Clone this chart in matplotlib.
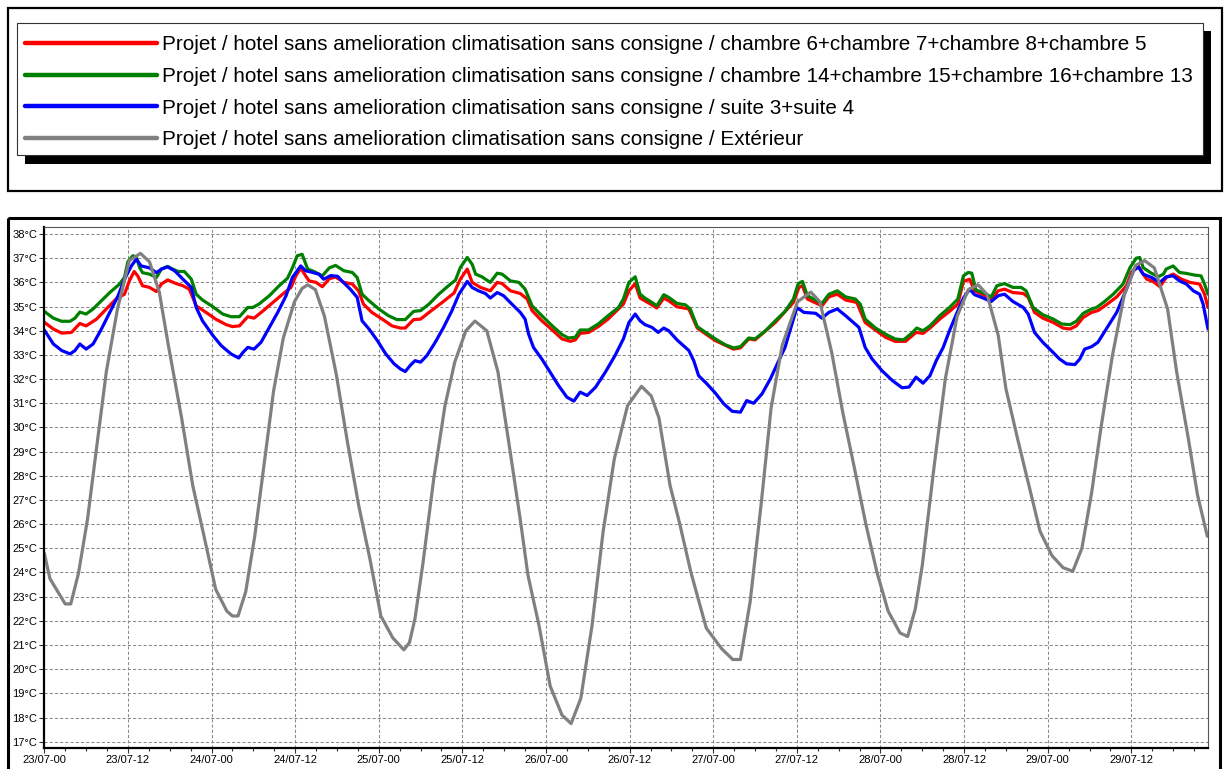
import matplotlib
matplotlib.use("Agg")
import matplotlib.pyplot as plt
from matplotlib.patches import Rectangle
from matplotlib.ticker import FixedLocator, MultipleLocator

plt.rcParams["font.family"] = ["Liberation Sans", "DejaVu Sans"]

# Series names (legend order = draw order)
prefix = "Projet / hotel sans amelioration climatisation sans consigne / "
labels = [
    prefix + "chambre 6+chambre 7+chambre 8+chambre 5",
    prefix + "chambre 14+chambre 15+chambre 16+chambre 13",
    prefix + "suite 3+suite 4",
    prefix + "Extérieur",
]
colors = ["#ff0000", "#008000", "#0000ff", "#808080"]

# Time axis: hours since 23/07 00:00
tick_labels = [
    "23/07-00", "23/07-12", "24/07-00", "24/07-12", "25/07-00", "25/07-12",
    "26/07-00", "26/07-12", "27/07-00", "27/07-12", "28/07-00", "28/07-12",
    "29/07-00", "29/07-12",
]
temp_ticks = list(range(17, 39))

red_hours = [
    0, 1.3, 2.5, 3.9, 5.1, 6.0, 7.5, 8.9, 10.3, 11.5, 12.2, 12.9, 13.4, 14.1, 15.1,
    16.1, 16.8, 17.7, 18.9, 19.9, 20.8, 21.8, 23.2, 24.6, 26.1, 27.0, 28.0, 29.2,
    30.1, 31.3, 32.8, 34.2, 35.4, 36.1, 36.8, 37.5, 38.0, 39.0, 39.9, 40.9, 41.8,
    43.0, 44.2, 45.1, 45.8, 47.0, 48.5, 49.9, 51.1, 51.8, 53.0, 54.0, 55.4, 57.1,
    58.8, 59.7, 60.7, 61.4, 62.6, 64.0, 65.0, 65.7, 66.9, 68.3, 69.3, 70.0, 71.4,
    72.9, 74.3, 75.5, 76.2, 76.9, 78.1, 79.5, 80.9, 82.4, 83.1, 83.9, 84.8, 85.5,
    87.2, 87.9, 88.9, 89.6, 90.8, 92.5, 93.7, 96.3, 98.9, 99.9, 101.1, 102.0,
    104.9, 107.5, 108.3, 108.8, 109.5, 111.6, 112.6, 113.8, 115.0, 116.6, 117.8,
    120.7, 122.1, 123.6, 125.1, 126.1, 127.1, 128.5, 129.9, 131.1, 131.9, 132.8,
    133.5, 134.7, 135.9, 136.9, 137.8, 139.0, 140.5, 141.2, 142.1, 143.3, 144.8,
    146.2, 147.2, 148.1, 149.1, 150.3, 151.2, 152.4, 153.9, 155.3, 156.0, 157.0,
    157.7, 158.2, 159.1, 160.1, 161.0, 162.0, 163.2, 164.4, 165.8, 166.5, 167.0,
]
red_temps = [
    34.35, 34.07, 33.9, 33.93, 34.3, 34.2, 34.48, 34.9, 35.31, 35.51, 36.06, 36.45,
    36.27, 35.86, 35.79, 35.62, 35.93, 36.1, 35.95, 35.86, 35.72, 35.03, 34.76,
    34.48, 34.25, 34.17, 34.2, 34.58, 34.52, 34.8, 35.17, 35.51, 35.79, 36.27,
    36.59, 36.27, 36.06, 36.0, 35.82, 36.15, 36.22, 36.0, 35.93, 35.65, 35.1,
    34.76, 34.48, 34.2, 34.11, 34.11, 34.46, 34.48, 34.8, 35.17, 35.56, 36.13,
    36.55, 36.0, 35.79, 35.65, 36.0, 35.95, 35.65, 35.54, 35.31, 34.83, 34.41,
    34.03, 33.66, 33.56, 33.62, 33.89, 33.93, 34.17, 34.48, 34.9, 35.1, 35.65,
    35.95, 35.35, 35.07, 34.94, 35.35, 35.24, 34.99, 34.9, 34.11, 33.59, 33.24,
    33.29, 33.66, 33.62, 34.34, 35.17, 35.79, 35.86, 35.31, 35.03, 35.4, 35.51,
    35.27, 35.17, 34.34, 33.73, 33.56, 33.56, 33.93, 33.89, 34.11, 34.48, 34.8,
    35.1, 36.04, 36.13, 35.65, 35.49, 35.31, 35.65, 35.72, 35.58, 35.54, 35.38,
    34.76, 34.52, 34.34, 34.11, 34.07, 34.2, 34.55, 34.76, 34.83, 35.07, 35.4,
    35.86, 36.41, 36.68, 36.34, 36.13, 36.04, 35.82, 36.2, 36.34, 36.13, 36.0,
    35.93, 35.51, 34.96,
]

green_hours = [
    0, 1.3, 2.5, 3.7, 4.4, 5.1, 6.0, 7.0, 8.2, 9.4, 10.8, 11.5, 12.0, 12.7, 13.2,
    13.7, 14.1, 15.1, 16.1, 16.8, 17.7, 18.4, 19.2, 20.1, 21.1, 21.8, 22.7, 24.2,
    25.6, 26.8, 28.0, 29.2, 29.9, 30.8, 32.3, 33.7, 34.9, 35.6, 36.3, 37.0, 37.8,
    38.7, 39.9, 40.9, 41.8, 43.0, 44.2, 44.9, 45.6, 46.6, 48.0, 49.4, 50.6, 51.8,
    53.0, 54.0, 55.2, 56.6, 58.0, 59.0, 59.7, 60.7, 61.4, 61.9, 62.8, 64.0, 65.0,
    65.7, 66.9, 68.1, 69.0, 70.0, 71.4, 72.9, 74.3, 75.2, 76.2, 76.9, 78.1, 79.5,
    80.9, 82.4, 83.1, 83.9, 84.8, 85.5, 86.2, 87.2, 87.9, 88.9, 89.6, 90.8, 92.0,
    92.7, 93.7, 94.9, 96.3, 97.7, 98.9, 99.9, 101.1, 102.0, 103.5, 104.9, 106.3,
    107.5, 108.2, 108.8, 109.5, 110.7, 111.6, 112.6, 113.8, 115.0, 116.4, 117.1,
    117.8, 119.3, 120.7, 122.1, 123.3, 124.3, 125.2, 126.1, 127.1, 128.5, 129.9,
    131.1, 131.9, 132.6, 133.1, 133.7, 134.7, 135.9, 136.7, 137.8, 139.0, 140.2,
    140.9, 141.9, 143.3, 144.8, 146.0, 147.2, 148.1, 149.1, 150.3, 151.0, 152.0,
    153.4, 154.8, 155.8, 156.7, 157.2, 157.7, 158.7, 159.8, 160.6, 161.0, 162.0,
    162.9, 163.9, 165.1, 166.0, 166.5, 167.0,
]
green_temps = [
    34.8, 34.52, 34.39, 34.39, 34.52, 34.77, 34.69, 34.9, 35.24, 35.58, 35.93, 36.2,
    36.86, 37.1, 37.05, 36.6, 36.4, 36.34, 36.2, 36.55, 36.66, 36.55, 36.45, 36.45,
    36.13, 35.51, 35.27, 34.99, 34.69, 34.58, 34.58, 34.96, 34.96, 35.1, 35.45,
    35.86, 36.17, 36.6, 37.1, 37.16, 36.55, 36.45, 36.27, 36.6, 36.7, 36.48, 36.41,
    36.2, 35.51, 35.24, 34.9, 34.62, 34.46, 34.46, 34.8, 34.83, 35.1, 35.51, 35.86,
    36.09, 36.61, 37.03, 36.75, 36.34, 36.23, 36.0, 36.38, 36.34, 36.06, 36.0,
    35.72, 35.03, 34.62, 34.2, 33.84, 33.7, 33.73, 34.03, 34.03, 34.28, 34.62,
    34.96, 35.31, 36.0, 36.23, 35.51, 35.35, 35.17, 35.03, 35.49, 35.38, 35.13,
    35.07, 34.9, 34.17, 33.93, 33.66, 33.42, 33.29, 33.34, 33.7, 33.66, 34.0, 34.41,
    34.8, 35.31, 35.95, 36.04, 35.45, 35.27, 35.13, 35.51, 35.65, 35.4, 35.31,
    35.1, 34.48, 34.11, 33.86, 33.66, 33.62, 33.85, 34.11, 34.0, 34.2, 34.62, 34.96,
    35.31, 36.27, 36.41, 36.38, 35.68, 35.58, 35.4, 35.86, 35.95, 35.79, 35.79,
    35.65, 34.96, 34.66, 34.48, 34.28, 34.25, 34.39, 34.72, 34.9, 34.96, 35.17,
    35.51, 35.93, 36.61, 37.0, 37.03, 36.61, 36.41, 36.23, 36.34, 36.55, 36.68,
    36.41, 36.37, 36.3, 36.27, 35.93, 35.51,
]

blue_hours = [
    0, 1.3, 2.5, 3.7, 4.4, 5.1, 6.0, 7.0, 8.2, 9.4, 10.6, 11.5, 12.5, 13.2, 13.9,
    15.1, 16.1, 16.8, 17.7, 18.7, 19.9, 21.1, 21.8, 22.7, 24.2, 25.4, 26.8, 27.9,
    28.5, 29.2, 30.1, 31.1, 32.3, 33.5, 34.7, 35.6, 36.8, 37.5, 38.5, 39.4, 40.1,
    41.1, 42.1, 42.7, 43.9, 44.9, 45.6, 46.6, 47.8, 49.0, 50.2, 51.1, 51.8, 52.5,
    53.2, 54.0, 54.9, 56.1, 57.3, 58.5, 59.5, 60.7, 61.4, 62.3, 63.3, 64.0, 65.0,
    65.9, 67.1, 68.3, 69.0, 69.5, 70.2, 71.4, 72.6, 73.8, 75.0, 76.0, 76.9, 77.9,
    79.1, 80.5, 81.9, 83.1, 83.9, 84.8, 85.5, 86.2, 87.2, 88.1, 88.9, 89.6, 90.8,
    92.5, 93.2, 93.9, 95.1, 96.3, 97.5, 98.7, 99.9, 100.8, 101.8, 103.0, 104.2,
    105.4, 106.3, 107.3, 108.0, 109.0, 110.7, 111.6, 112.6, 113.8, 115.0, 116.9,
    117.8, 118.8, 120.2, 121.7, 123.1, 124.1, 125.1, 126.1, 127.1, 128.0, 129.0,
    129.9, 130.9, 131.9, 132.8, 133.5, 134.5, 135.9, 136.9, 137.8, 139.0, 140.5,
    141.2, 142.1, 143.3, 144.5, 145.7, 146.7, 147.9, 148.6, 149.3, 150.3, 151.2,
    152.4, 153.9, 155.3, 156.3, 157.0, 157.7, 158.9, 160.1, 161.0, 162.0, 162.9,
    163.9, 164.9, 165.8, 166.3, 167.0,
]
blue_temps = [
    34.03, 33.45, 33.18, 33.04, 33.18, 33.45, 33.24, 33.45, 34.07, 34.76, 35.45,
    36.13, 36.68, 36.96, 36.68, 36.6, 36.4, 36.55, 36.64, 36.48, 36.13, 35.79,
    34.96, 34.41, 33.8, 33.38, 33.04, 32.87, 33.1, 33.31, 33.24, 33.52, 34.14,
    34.76, 35.45, 36.2, 36.68, 36.48, 36.41, 36.34, 36.13, 36.28, 36.25, 36.06,
    35.72, 35.38, 34.41, 34.07, 33.59, 33.04, 32.63, 32.42, 32.31, 32.56, 32.76,
    32.7, 32.97, 33.52, 34.14, 34.83, 35.51, 36.04, 35.79, 35.65, 35.54, 35.35,
    35.58, 35.45, 35.1, 34.76, 34.48, 33.86, 33.31, 32.83, 32.28, 31.73, 31.25,
    31.09, 31.46, 31.32, 31.66, 32.28, 32.97, 33.66, 34.34, 34.69, 34.41, 34.25,
    34.14, 33.93, 34.11, 34.0, 33.62, 33.18, 32.76, 32.14, 31.8, 31.42, 30.98,
    30.67, 30.63, 31.11, 31.0, 31.39, 32.01, 32.76, 33.31, 34.28, 34.96, 34.76,
    34.72, 34.52, 34.76, 34.9, 34.62, 34.14, 33.31, 32.83, 32.35, 31.94, 31.64,
    31.67, 32.08, 31.83, 32.14, 32.76, 33.31, 34.0, 34.69, 35.35, 35.72, 35.49,
    35.38, 35.21, 35.45, 35.51, 35.21, 34.96, 34.69, 33.93, 33.52, 33.18, 32.83,
    32.63, 32.6, 32.83, 33.24, 33.34, 33.52, 34.07, 34.76, 35.72, 36.48, 36.64,
    36.34, 36.2, 36.0, 36.23, 36.27, 36.06, 35.93, 35.65, 35.51, 35.1, 34.07,
]

grey_hours = [
    0, 0.8, 3.0, 3.8, 4.9, 6.2, 7.3, 8.9, 10.5, 12.2, 13.8, 15.1, 16.5, 17.8, 19.7,
    21.3, 23.0, 24.6, 26.2, 27.0, 27.8, 28.9, 30.2, 31.6, 32.9, 34.3, 35.9, 37.0,
    37.8, 38.9, 40.2, 41.9, 43.5, 45.1, 46.7, 48.3, 50.0, 51.6, 52.4, 53.2, 54.3,
    55.9, 57.5, 58.9, 60.5, 61.8, 63.5, 65.1, 66.7, 68.3, 69.4, 71.0, 72.6, 74.3,
    75.6, 77.0, 78.6, 80.2, 81.8, 83.7, 85.7, 87.1, 88.2, 89.8, 91.2, 92.8, 95.0,
    97.2, 98.8, 99.9, 101.3, 102.9, 104.3, 105.9, 108.1, 110.0, 111.3, 113.0,
    114.6, 116.2, 117.9, 119.5, 121.1, 122.8, 123.9, 125.0, 126.0, 127.7, 129.3,
    131.0, 132.6, 134.0, 135.3, 136.9, 138.0, 139.7, 141.3, 142.9, 144.6, 146.2,
    147.6, 148.9, 150.3, 151.7, 153.3, 155.0, 156.6, 157.9, 159.3, 161.2, 162.5,
    164.2, 165.5, 166.9,
]
grey_temps = [
    24.8, 23.75, 22.7, 22.7, 23.96, 26.2, 28.7, 32.3, 34.9, 36.9, 37.2, 36.85, 35.6,
    33.4, 30.4, 27.6, 25.4, 23.3, 22.4, 22.2, 22.2, 23.2, 25.5, 28.6, 31.5, 33.7,
    35.2, 35.75, 35.9, 35.7, 34.6, 32.2, 29.4, 26.8, 24.6, 22.2, 21.3, 20.8, 21.1,
    22.1, 24.3, 27.9, 30.9, 32.7, 34.0, 34.4, 34.0, 32.3, 29.3, 26.2, 23.9, 21.8,
    19.3, 18.1, 17.75, 18.8, 21.8, 25.7, 28.7, 30.9, 31.7, 31.3, 30.4, 27.6, 26.0,
    24.0, 21.7, 20.85, 20.4, 20.4, 22.8, 26.9, 30.8, 33.4, 35.2, 35.6, 35.2, 33.1,
    30.6, 28.4, 26.0, 24.0, 22.4, 21.5, 21.35, 22.5, 24.3, 28.4, 32.0, 34.6, 35.7,
    35.9, 35.5, 33.8, 31.6, 29.5, 27.6, 25.7, 24.7, 24.2, 24.05, 25.0, 27.3, 30.1,
    33.0, 35.5, 36.7, 36.9, 36.6, 34.9, 32.3, 29.5, 27.2, 25.5,
]

series = [
    (red_hours, red_temps),
    (green_hours, green_temps),
    (blue_hours, blue_temps),
    (grey_hours, grey_temps),
]

W, H = 1227, 769
fig = plt.figure(figsize=(W / 100, H / 100), dpi=100)
fig.patch.set_facecolor("white")

# pixel-space layer for the frames and the legend block
deco = fig.add_axes([0, 0, 1, 1])
deco.set_xlim(0, W)
deco.set_ylim(H, 0)
deco.axis("off")

deco.add_patch(Rectangle((8, 8), 1214, 183, fill=False, edgecolor="black", lw=1.6))
deco.add_patch(Rectangle((25, 31), 1186, 133, facecolor="black", edgecolor="none"))
deco.add_patch(Rectangle((17, 23), 1186, 132, facecolor="white", edgecolor="#333333", lw=0.8))
deco.add_patch(Rectangle((8, 218), 1212, 560, fill=False, edgecolor="black", lw=2.2))

row_y = 43
for label, color in zip(labels, colors):
    deco.plot([25, 157], [row_y, row_y], color=color, lw=3.2, solid_capstyle="round")
    deco.text(162, row_y + 7.5, label, fontsize=14.85, va="baseline", ha="left", color="black")
    row_y += 31.5

# main chart
left, right, top, bottom = 44.3, 1208, 227, 748
ax = fig.add_axes([left / W, 1 - bottom / H, (right - left) / W, (bottom - top) / H])

for (hours, temps), color in zip(series, colors):
    ax.plot(hours, temps, color=color, lw=2.3, solid_joinstyle="round", solid_capstyle="round")

ax.set_xlim(0, 167)
ax.set_ylim(16.74, 38.29)

ax.xaxis.set_major_locator(FixedLocator([12 * i for i in range(len(tick_labels))]))
ax.set_xticklabels(tick_labels)
ax.xaxis.set_minor_locator(MultipleLocator(3))
ax.yaxis.set_major_locator(FixedLocator(temp_ticks))
ax.set_yticklabels([f"{t}°C" for t in temp_ticks])

ax.tick_params(axis="both", which="major", direction="out", length=3.5, width=0.8,
               color="#333333", labelsize=8, labelcolor="black", pad=1.5)
ax.tick_params(axis="x", which="minor", direction="out", length=2.5, width=0.8, color="#333333")

ax.grid(True, which="major", color="#8a8a8a", linestyle=(0, (3, 2)), lw=0.75)
ax.set_axisbelow(True)

for side in ("left", "bottom"):
    ax.spines[side].set_linewidth(1.6)
    ax.spines[side].set_color("black")
for side in ("top", "right"):
    ax.spines[side].set_linewidth(0.8)
    ax.spines[side].set_color("#555555")

fig.savefig("out.png", dpi=100, facecolor="white")
